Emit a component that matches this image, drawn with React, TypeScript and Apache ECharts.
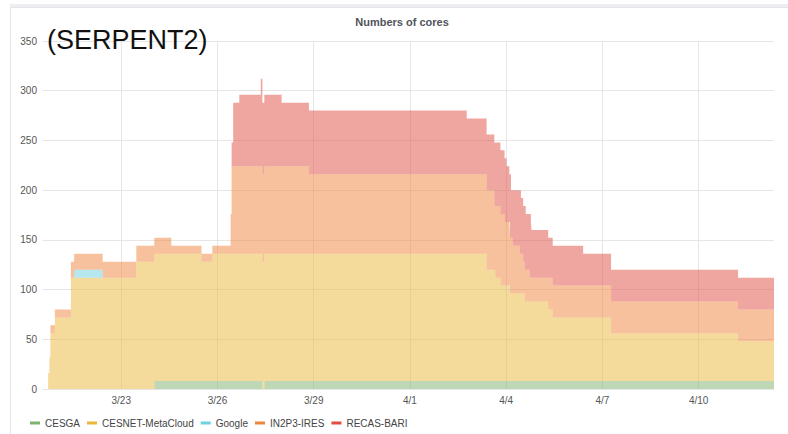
import React, { useEffect, useRef } from "react";
import * as echarts from "echarts";

// x = days since 3/20 00:00 ; each value holds from its time until the next time
const days = [
  0.72, 0.76, 0.79, 0.93, 1.43, 1.53, 2.42, 3.47, 4.03, 4.56, 5.5, 5.84,
  6.41, 6.44, 6.49, 6.68, 7.35, 7.4, 7.46, 8.0, 8.85, 13.77, 14.39, 14.63,
  14.66, 14.82, 14.95, 15.01, 15.1, 15.12, 15.15, 15.21, 15.43, 15.46, 15.53,
  15.58, 15.61, 15.74, 15.77, 15.79, 16.31, 16.45, 17.4, 18.27, 22.23, 23.35,
];
const cesga = [
  0, 0, 0, 0, 0, 0, 0, 0, 8, 8, 8, 8,
  8, 8, 8, 8, 8, 0, 8, 8, 8, 8, 8, 8,
  8, 8, 8, 8, 8, 8, 8, 8, 8, 8, 8,
  8, 8, 8, 8, 8, 8, 8, 8, 8, 8, 8,
];
const cesnet = [
  16, 32, 56, 72, 112, 112, 112, 128, 128, 128, 120, 128,
  128, 128, 128, 128, 128, 128, 128, 128, 128, 128, 112, 112,
  104, 96, 96, 96, 96, 88, 88, 88, 88, 88, 88,
  80, 80, 80, 80, 80, 72, 64, 64, 48, 40, 40,
];
const google = [
  0, 0, 0, 0, 0, 8, 0, 0, 0, 0, 0, 0,
  0, 0, 0, 0, 0, 0, 0, 0, 0, 0, 0, 0,
  0, 0, 0, 0, 0, 0, 0, 0, 0, 0, 0,
  0, 0, 0, 0, 0, 0, 0, 0, 0, 0, 0,
];
const in2p3 = [
  0, 0, 8, 8, 16, 16, 16, 16, 16, 8, 8, 8,
  40, 88, 88, 88, 88, 88, 88, 88, 80, 80, 80, 64,
  72, 72, 64, 64, 64, 56, 56, 48, 40, 40, 32,
  32, 32, 24, 24, 24, 32, 32, 32, 32, 32, 32,
];
const recas = [
  0, 0, 0, 0, 0, 0, 0, 0, 0, 0, 0, 0,
  0, 24, 64, 72, 88, 72, 72, 64, 64, 56, 56, 64,
  64, 64, 64, 56, 48, 64, 48, 56, 64, 56, 56,
  64, 56, 64, 56, 48, 40, 40, 32, 32, 32, 32,
];

const seriesNames = ["CESGA", "CESNET-MetaCloud", "Google", "IN2P3-IRES", "RECAS-BARI"];
const seriesColors = ["#7EB26D", "#EAB839", "#6ED0E0", "#EF843C", "#E24D42"];
const seriesValues = [cesga, cesnet, google, in2p3, recas];
const xTickDays = [3, 6, 9, 12, 15, 18, 21];
const yTicks = { min: 0, max: 350, interval: 50 };
const xRangeDays = { min: 0.56, max: 23.35 };

const DAY = 86400000;
const BASE = new Date(2019, 2, 20).getTime();
const toTime = (d: number) => BASE + d * DAY;

const dayLabel = (d: number) => {
  const dt = new Date(toTime(d));
  return `${dt.getMonth() + 1}/${dt.getDate()}`;
};

const FONT = "'Liberation Sans', Arial, Helvetica, sans-serif";

export default function App() {
  const ref = useRef<HTMLDivElement>(null);
  useEffect(() => {
    if (!ref.current) return;
    const chart = echarts.init(ref.current, null, { renderer: "svg" });
    chart.setOption({
      animation: false,
      backgroundColor: "#ffffff",
      textStyle: { fontFamily: FONT },
      graphic: [
        {
          type: "rect",
          z: -10,
          shape: { x: 10, y: 4, width: 800, height: 4 },
          style: { fill: "#eceef2" },
          silent: true,
        },
        {
          type: "rect",
          z: -10,
          shape: { x: 10.5, y: 7.5, width: 800, height: 440 },
          style: { fill: "#ffffff", stroke: "#e3e5ea", lineWidth: 1 },
          silent: true,
        },
        {
          type: "text",
          x: 402,
          y: 22,
          z: 10,
          style: {
            text: "Numbers of cores",
            fontFamily: FONT,
            fontSize: 11,
            fontWeight: 600,
            fill: "#52545c",
            textAlign: "center",
            textVerticalAlign: "middle",
          },
        },
        {
          type: "text",
          x: 47,
          y: 40,
          z: 10,
          style: {
            text: "(SERPENT2)",
            fontFamily: FONT,
            fontSize: 27,
            fill: "#111111",
            textAlign: "left",
            textVerticalAlign: "middle",
          },
        },
      ],
      legend: {
        left: 25,
        top: 413,
        icon: "rect",
        itemWidth: 10,
        itemHeight: 3,
        itemGap: 7,
        textStyle: { fontSize: 10, color: "#444", fontFamily: FONT },
        data: seriesNames,
      },
      grid: { left: 43, right: 14, top: 41, bottom: 45, containLabel: false },
      xAxis: [
        {
          type: "time",
          min: toTime(xRangeDays.min),
          max: toTime(xRangeDays.max),
          show: false,
          splitLine: { show: false },
        },
        {
          type: "value",
          position: "bottom",
          min: xRangeDays.min,
          max: xRangeDays.max,
          axisLine: { show: false },
          axisTick: { show: false, customValues: xTickDays },
          axisLabel: {
            customValues: xTickDays,
            formatter: (v: number) => dayLabel(v),
            fontSize: 10,
            color: "#555",
            margin: 6,
            fontFamily: FONT,
          },
          splitLine: { show: true, lineStyle: { color: "#e6e6e6", width: 1 } },
        },
      ],
      yAxis: {
        type: "value",
        min: yTicks.min,
        max: yTicks.max,
        interval: yTicks.interval,
        axisLine: { show: false },
        axisTick: { show: false },
        axisLabel: { fontSize: 10, color: "#555", margin: 6, fontFamily: FONT },
        splitLine: { show: true, lineStyle: { color: "#e6e6e6", width: 1 } },
      },
      series: seriesNames.map((name, k) => ({
        name,
        type: "line",
        xAxisIndex: 0,
        stack: "total",
        step: "end",
        symbol: "none",
        showSymbol: false,
        color: seriesColors[k],
        lineStyle: { width: 0 },
        areaStyle: { color: seriesColors[k], opacity: 0.5 },
        data: days.map((d, i) => [toTime(d), seriesValues[k][i]]),
      })),
    });
    return () => chart.dispose();
  }, []);
  return (
    <div
      ref={ref}
      style={{ position: "fixed", left: 0, top: 0, width: 788, height: 434 }}
    />
  );
}
